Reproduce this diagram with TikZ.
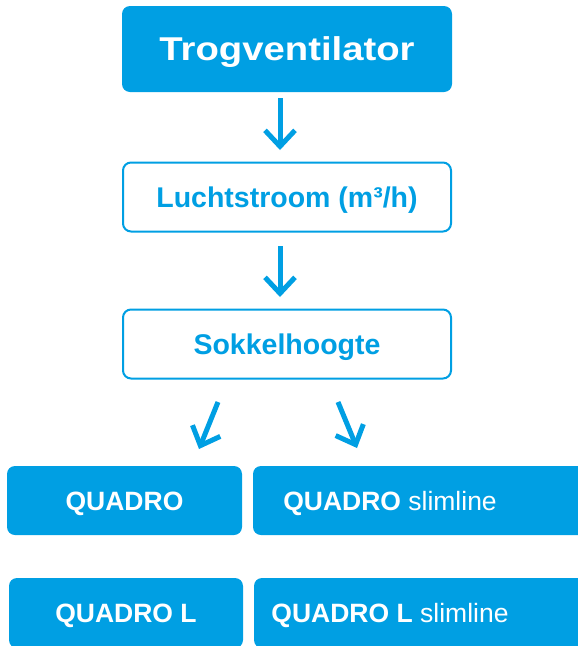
\documentclass[tikz,border=0pt]{standalone}
\usepackage{fontspec}
\setmainfont{Liberation Sans}
\newfontfamily\titlefont[FakeStretch=1.16]{Liberation Sans}
\usetikzlibrary{arrows.meta}
\definecolor{qblue}{HTML}{009FE3}
\tikzset{
  x=1pt, y=-1pt,
  filledbox/.style={fill=qblue, draw=none, rounded corners=8pt, inner sep=0pt, text=white},
  outlinebox/.style={fill=white, draw=qblue, line width=2pt, rounded corners=8pt, inner sep=0pt, text=qblue},
  flowarrow/.style={draw=qblue, line width=5pt, -{Straight Barb[length=16pt, width=30pt]}},
  lbl/.style={text=white, inner sep=0pt},
  bigfont/.style={font=\titlefont\fontsize{33}{38}\selectfont\bfseries, text height=23.6pt, text depth=0pt},
  midfont/.style={font=\fontsize{28.5}{33}\selectfont\bfseries, text height=20.4pt, text depth=0pt},
  smallfont/.style={font=\fontsize{26.5}{30}\selectfont, text height=19pt, text depth=0pt}
}
\begin{document}
\begin{tikzpicture}
\useasboundingbox (0,0) rectangle (578,646);
\begin{scope}
\clip (0,0) rectangle (578,646);
\node[filledbox, bigfont, minimum width=330pt, minimum height=86pt] (trog) at (287,49)
  {Trogventilator};
\node[outlinebox, midfont, minimum width=328pt, minimum height=69pt] (lucht) at (287,197)
  {Luchtstroom (m³/h)};
\node[outlinebox, midfont, minimum width=328pt, minimum height=69pt] (sokkel) at (287,344)
  {Sokkelhoogte};
\node[filledbox, smallfont, minimum width=235pt, minimum height=69pt] (q) at (124.5,500.5)
  {\bfseries QUADRO};
\node[filledbox, minimum width=337pt, minimum height=69pt] (qs) at (421.5,500.5) {};
\node[lbl, smallfont] (qslbl) at (390,501)
  {\textbf{QUADRO} slimline};
\node[filledbox, smallfont, minimum width=234pt, minimum height=70pt] (ql) at (126,613)
  {\bfseries QUADRO L};
\node[filledbox, minimum width=336pt, minimum height=70pt] (qls) at (422,613) {};
\node[lbl, smallfont] (qlslbl) at (390,613)
  {\textbf{QUADRO L} slimline};
\end{scope}
\coordinate (a1s) at (280,98);
\coordinate (a1e) at (280,150);
\coordinate (a2s) at (280,246);
\coordinate (a2e) at (280,297);
\coordinate (a3s) at (218,402);
\coordinate (a3e) at (199,449);
\coordinate (a4s) at (338,402);
\coordinate (a4e) at (357,448);
\draw[flowarrow] (a1s) -- (a1e);
\draw[flowarrow] (a2s) -- (a2e);
\draw[flowarrow] (a3s) -- (a3e);
\draw[flowarrow] (a4s) -- (a4e);
\end{tikzpicture}
\end{document}
